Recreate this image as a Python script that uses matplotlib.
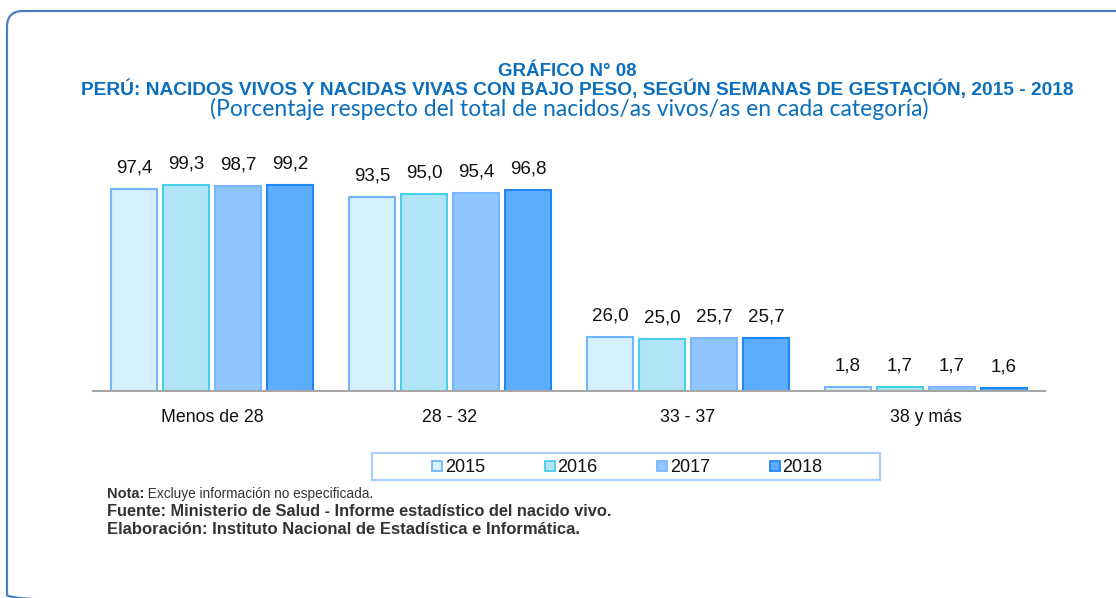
import numpy as np
import matplotlib
matplotlib.use("Agg")
import matplotlib.pyplot as plt
from matplotlib.patches import FancyBboxPatch, Rectangle

# data
categories = ["Menos de 28", "28 - 32", "33 - 37", "38 y más"]
years = ["2015", "2016", "2017", "2018"]
v2015 = [97.4, 93.5, 26.0, 1.8]
v2016 = [99.3, 95.0, 25.0, 1.7]
v2017 = [98.7, 95.4, 25.7, 1.7]
v2018 = [99.2, 96.8, 25.7, 1.6]
series = [v2015, v2016, v2017, v2018]

face_colors = ["#D5EFFB", "#B1E4F6", "#90C6FF", "#5DADFF"]
edge_colors = ["#6FB6FF", "#48D0EA", "#7AB7FF", "#1F86F5"]

TITLE_BLUE = "#0B6FBF"
SANS = "Liberation Sans"

W, H = 1116, 598
fig = plt.figure(figsize=(W / 100, H / 100), dpi=100)

# background layer in pixel coordinates (frame, titles, legend, notes)
bg = fig.add_axes([0, 0, 1, 1])
bg.set_xlim(0, W)
bg.set_ylim(H, 0)
bg.axis("off")

frame = FancyBboxPatch((7, 11), 1300, 600, boxstyle="round,pad=0,rounding_size=16",
                       facecolor="none", edgecolor="#4A7EC0", linewidth=1.6)
bg.add_patch(frame)

bg.text(567, 71, "GRÁFICO N° 08", ha="center", va="center", color=TITLE_BLUE,
        fontsize=13.5, fontweight="bold", family=SANS)
bg.text(577, 89, "PERÚ: NACIDOS VIVOS Y NACIDAS VIVAS CON BAJO PESO, SEGÚN SEMANAS DE GESTACIÓN, 2015 - 2018",
        ha="center", va="center", color=TITLE_BLUE, fontsize=13.8, fontweight="bold", family=SANS)
bg.text(569, 109, "(Porcentaje respecto del total de nacidos/as vivos/as en cada categoría)",
        ha="center", va="center", color=TITLE_BLUE, fontsize=16.5, fontweight="normal", family="Lato")

# legend drawn by hand to match the boxed one-row layout
bg.add_patch(Rectangle((372, 453), 508, 27, facecolor="none", edgecolor="#A5CFFF", linewidth=1.6))
for i, yr in enumerate(years):
    x0 = 432 + i * 112.5
    bg.add_patch(Rectangle((x0, 461), 10, 10, facecolor=face_colors[i],
                           edgecolor=edge_colors[i], linewidth=1.3))
    bg.text(x0 + 13, 467, yr, ha="left", va="center", fontsize=13, family=SANS, color="#111111")

# notes
note_y = [494, 512, 530]
t = bg.text(107, note_y[0], "Nota:", ha="left", va="center", fontsize=10.5, fontweight="bold",
            family=SANS, color="#333333")
bg.annotate(" Excluye información no especificada.", xy=(1, 0.5), xycoords=t, ha="left", va="center",
            fontsize=9.8, family=SANS, color="#333333")
bg.text(107, note_y[1], "Fuente: Ministerio de Salud - Informe estadístico del nacido vivo.",
        ha="left", va="center", fontsize=11.8, fontweight="bold", family=SANS, color="#333333")
bg.text(107, note_y[2], "Elaboración: Instituto Nacional de Estadística e Informática.",
        ha="left", va="center", fontsize=12, fontweight="bold", family=SANS, color="#333333")

# bar chart
ymax = 110
ax = fig.add_axes([93 / W, 1 - 391 / H, 952 / W, (ymax * 2.075) / H])
ax.patch.set_alpha(0)
x = np.arange(len(categories))
bw = 0.197
step = 0.2185
for j, vals in enumerate(series):
    pos = x + (j - 1.5) * step
    ax.bar(pos, vals, width=bw, color=face_colors[j], edgecolor=edge_colors[j], linewidth=1.5)
    for px, v in zip(pos, vals):
        ax.annotate(f"{v:.1f}".replace(".", ","), xy=(px, v), xytext=(0, 12),
                    textcoords="offset points", ha="center", va="baseline",
                    fontsize=13.5, family=SANS, color="#111111")

ax.set_xlim(-0.5, len(categories) - 0.5)
ax.set_ylim(0, ymax)
ax.set_xticks(x)
ax.set_xticklabels(categories, fontsize=12.8, family=SANS, color="#111111")
ax.tick_params(axis="x", length=0, pad=13)
ax.set_yticks([])
for s in ["top", "right", "left"]:
    ax.spines[s].set_visible(False)
ax.spines["bottom"].set_color("#A6A6A6")
ax.spines["bottom"].set_linewidth(1.5)

fig.savefig("out.png", dpi=100)
plt.close(fig)
